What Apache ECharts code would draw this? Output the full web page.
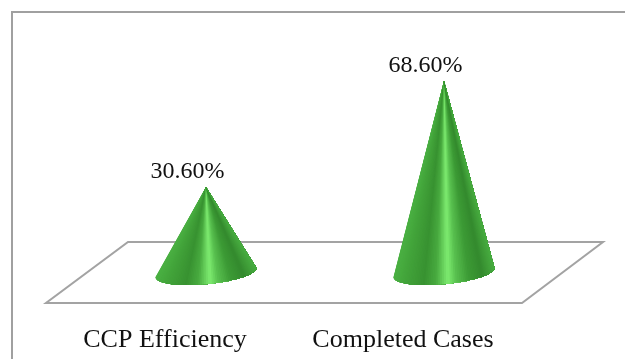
<!DOCTYPE html>
<html>
<head>
<meta charset="utf-8">
<style>html,body{margin:0;padding:0;background:#fff}#c{width:625px;height:359px}</style>
<script src="https://cdn.jsdelivr.net/npm/echarts@6/dist/echarts.min.js"></script>
</head>
<body>
<div id="c"></div>
<script>
var categories = ['CCP Efficiency', 'Completed Cases'];
var values = [30.6, 68.6];

var FONT = '"Liberation Serif", serif';
var shade = [[0,[74,176,66]],[0.12,[66,163,58]],[0.3,[56,146,49]],[0.42,[72,170,63]],[0.54,[126,236,112]],[0.62,[88,192,79]],[0.75,[60,154,53]],[0.88,[52,138,46]],[1,[72,172,64]]];

function colorAt(u){
  for (var i=1;i<shade.length;i++){
    if (u<=shade[i][0]){
      var a=shade[i-1],b=shade[i],k=(u-a[0])/(b[0]-a[0]);
      return 'rgb('+[0,1,2].map(function(j){return Math.round(a[1][j]+(b[1][j]-a[1][j])*k);}).join(',')+')';
    }
  }
  return 'rgb(72,172,64)';
}

function renderCone(params, api){
  var i = api.value(0), v = api.value(1);
  var base = api.coord([i,0]), apex = api.coord([i,v]);
  var a = 50.5, tilt = 4.5, b = 11.7, N = 80, kids = [], j;
  function rim(t){ return [base[0]+Math.cos(t)*a, base[1]-Math.cos(t)*tilt+Math.sin(t)*b]; }
  for (j=0;j<N;j++){
    // each strip reaches to the far rim so later strips paint over it and no seams show
    var pts = [[apex[0],apex[1]]], m, c;
    for (m=j;m<=N;m++){ pts.push(rim(Math.PI*(1-m/N))); }
    c = colorAt((rim(Math.PI*(1-(j+0.5)/N))[0]-(base[0]-a))/(2*a));
    kids.push({type:'polygon',shape:{points:pts},style:{fill:c}});
  }
  kids.push({type:'text',style:{text:v.toFixed(2)+'%',x:apex[0]-18.5,y:apex[1]-15,align:'center',verticalAlign:'middle',font:'24px '+FONT,fill:'#111'}});
  return {type:'group',children:kids};
}

var chart = echarts.init(document.getElementById('c'), null, {renderer:'canvas'});
chart.setOption({
  animation:false,
  backgroundColor:'#fff',
  graphic:[
    {type:'polygon',z:0,silent:true,shape:{points:[[46,303],[522,303],[603,242],[128,242]]},style:{fill:'#fff',stroke:'#a3a3a3',lineWidth:2}},
    {type:'polyline',z:0,silent:true,shape:{points:[[12,359],[12,12],[625,12]]},style:{fill:'none',stroke:'#a0a0a0',lineWidth:2}}
  ],
  grid:[
    {left:87,width:476,top:49.3,bottom:86.5},
    {left:46,width:476,top:49.3,bottom:86.5}
  ],
  xAxis:[
    {type:'category',gridIndex:0,data:categories,axisLine:{show:false},axisTick:{show:false},axisLabel:{show:false}},
    {type:'category',gridIndex:1,data:categories,axisLine:{show:false},axisTick:{show:false},axisLabel:{margin:55,fontFamily:FONT,fontSize:26,color:'#111'}}
  ],
  yAxis:[
    {type:'value',gridIndex:0,min:0,max:80,show:false},
    {type:'value',gridIndex:1,min:0,max:80,show:false}
  ],
  series:[{
    type:'custom',z:2,xAxisIndex:0,yAxisIndex:0,clip:false,
    renderItem:renderCone,
    data:values.map(function(v,i){return [i,v];})
  }]
});
</script>
</body>
</html>
